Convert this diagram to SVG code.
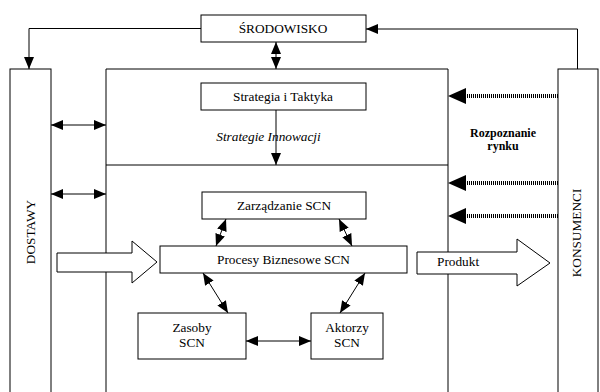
<svg xmlns="http://www.w3.org/2000/svg" width="600" height="392" viewBox="0 0 600 392" font-family="'Liberation Serif', 'DejaVu Serif', serif">
<style>
.box{fill:#fff;stroke:#000;stroke-width:1}
.ln{fill:none;stroke:#000;stroke-width:1}
text{font-family:'Liberation Serif','DejaVu Serif',serif}
.t{font-size:13.3px;fill:#000;text-anchor:middle}
.dot{fill:none;stroke:#000;stroke-width:4;stroke-dasharray:1 1}
.arr{stroke:#000;stroke-width:1;fill:none;marker-end:url(#ah)}
.dbl{stroke:#000;stroke-width:1;fill:none;marker-start:url(#ah);marker-end:url(#ah)}
.hollow{fill:#fff;stroke:#000;stroke-width:1}
</style>
<defs>
<marker id="ah" markerUnits="userSpaceOnUse" markerWidth="12" markerHeight="10" refX="12" refY="5" orient="auto-start-reverse">
<path d="M0,0 L12,5 L0,10 z" fill="#000"/>
</marker>
</defs>
<rect width="600" height="392" fill="#fff"/>

<g id="main-frame">
<path class="ln" d="M106,395 V69 H448 V395"/>
<line class="ln" x1="106" y1="165" x2="448" y2="165"/>
</g>

<g id="dostawy">
<rect class="box" x="10" y="69" width="41" height="330"/>
<text class="t" transform="translate(34.5,232) rotate(-90)">DOSTAWY</text>
</g>

<g id="konsumenci">
<rect class="box" x="558" y="69" width="40" height="330"/>
<text class="t" transform="translate(580.5,233) rotate(-90)">KONSUMENCI</text>
</g>

<g id="srodowisko">
<rect class="box" x="201" y="15" width="165" height="27"/>
<text class="t" x="283" y="33">ŚRODOWISKO</text>
</g>

<g id="strategia">
<rect class="box" x="201" y="83" width="165" height="27"/>
<text class="t" x="283" y="101">Strategia i Taktyka</text>
</g>

<g id="zarzadzanie">
<rect class="box" x="202" y="192" width="164" height="27"/>
<text class="t" x="284" y="210">Zarządzanie SCN</text>
</g>

<g id="procesy">
<rect class="box" x="160" y="246" width="247" height="27"/>
<text class="t" x="283.5" y="264">Procesy Biznesowe SCN</text>
</g>

<g id="zasoby">
<rect class="box" x="138" y="313" width="108" height="46"/>
<text class="t" x="192" y="332">Zasoby</text>
<text class="t" x="192" y="347">SCN</text>
</g>

<g id="aktorzy">
<rect class="box" x="311" y="313" width="72" height="46"/>
<text class="t" x="347" y="332">Aktorzy</text>
<text class="t" x="347" y="347">SCN</text>
</g>

<g id="connectors">
<path class="arr" d="M201,28.5 H29 V69"/>
<path class="arr" d="M577.5,69 V29 H366"/>
<line class="dbl" x1="276" y1="42" x2="276" y2="69"/>
<line class="arr" x1="276" y1="110" x2="276" y2="165"/>
<line class="dbl" x1="51" y1="125" x2="106" y2="125"/>
<line class="dbl" x1="51" y1="194" x2="106" y2="194"/>
<line class="dot" x1="558" y1="96" x2="466" y2="96"/>
<line class="dot" x1="558" y1="183" x2="466" y2="183"/>
<line class="dot" x1="558" y1="216" x2="466" y2="216"/>
<path d="M448,96 L466,88 L466,104 z" fill="#000"/>
<path d="M448,183 L466,175 L466,191 z" fill="#000"/>
<path d="M448,216 L466,208 L466,224 z" fill="#000"/>
<line class="dbl" x1="226" y1="219" x2="216" y2="246"/>
<line class="dbl" x1="339" y1="219" x2="352" y2="246"/>
<line class="dbl" x1="203" y1="273" x2="228" y2="313"/>
<line class="dbl" x1="365" y1="273" x2="340" y2="313"/>
<line class="dbl" x1="246" y1="341" x2="311" y2="341"/>
<polygon class="hollow" points="57,253 132,253 132,241 157,262 132,283 132,272 57,272"/>
<polygon class="hollow" points="417,252 517,252 517,239 550,263 517,286 517,274 417,274"/>
</g>

<text class="t" x="437" y="266" style="text-anchor:start">Produkt</text>
<text class="t" x="268.5" y="141" style="font-style:italic">Strategie Innowacji</text>
<text class="t" x="503" y="137" style="font-weight:bold;font-size:12px">Rozpoznanie</text>
<text class="t" x="503" y="150" style="font-weight:bold;font-size:12px">rynku</text>
</svg>
